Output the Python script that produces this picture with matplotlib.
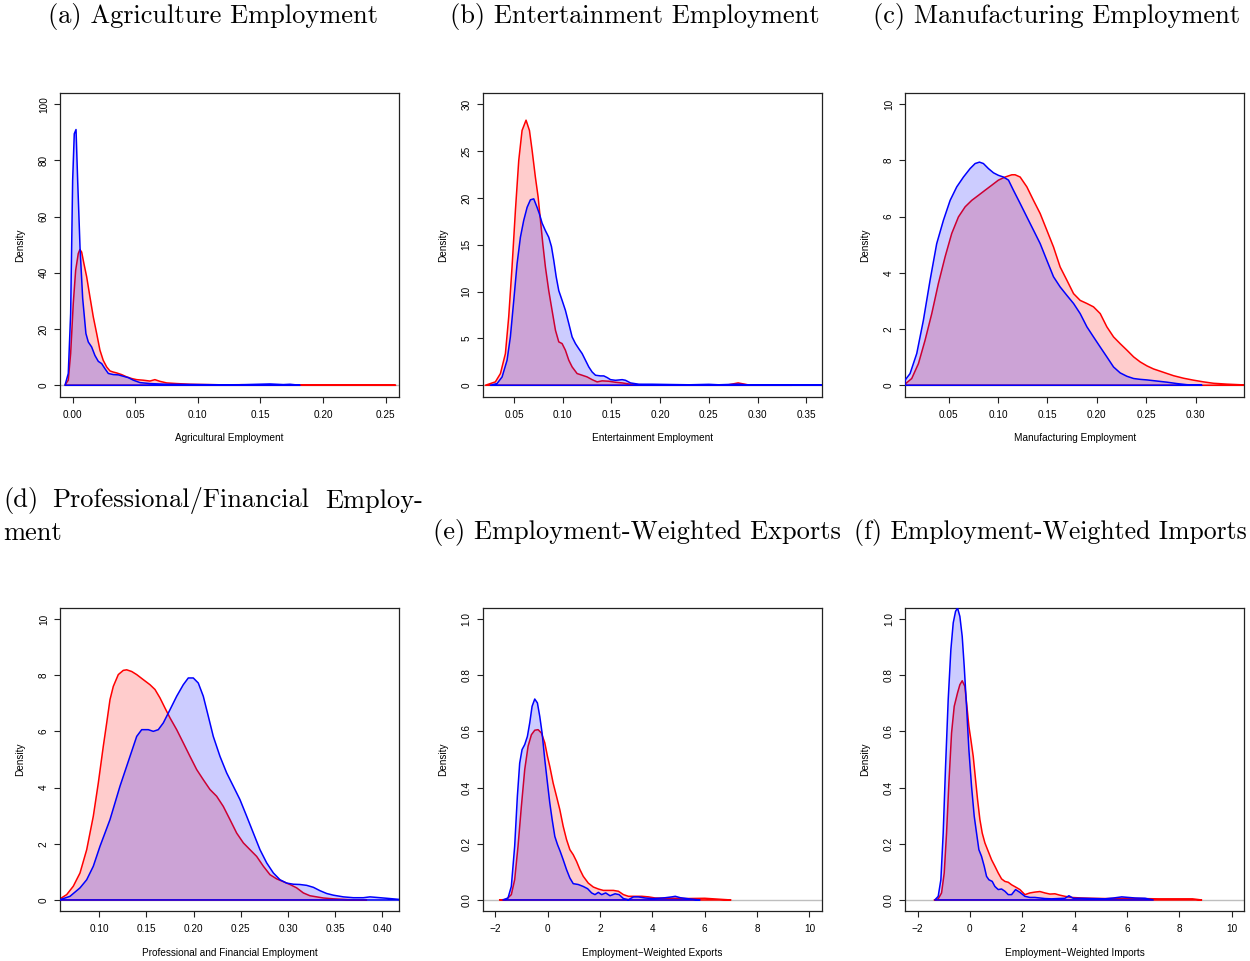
import matplotlib
matplotlib.use("Agg")
import matplotlib.pyplot as plt
import numpy as np

# ---------------- data: kernel density curves (x, density) ----------------
# (a) Agricultural employment
agri_red_x = [-0.0062, -0.0035, -0.0016, 0.0005, 0.0024, 0.0045, 0.0058, 0.0072, 0.0090, 0.0112,
              0.0138, 0.0165, 0.0192, 0.0218, 0.0244, 0.0272, 0.0298, 0.0324, 0.0351, 0.0391,
              0.0431, 0.0471, 0.0511, 0.0564, 0.0617, 0.0657, 0.0697, 0.0751, 0.0831, 0.0937,
              0.1000, 0.1200, 0.1350, 0.1500, 0.2000, 0.2580]
agri_red_y = [0.0, 1.8, 11.3, 29.1, 40.9, 46.9, 48.3, 47.4, 43.3, 38.6,
              31.5, 24.3, 18.4, 12.5, 8.9, 6.5, 5.1, 4.7, 4.4, 3.8,
              3.0, 2.4, 2.0, 1.8, 1.5, 2.0, 1.4, 0.83, 0.6, 0.36,
              0.3, 0.15, 0.2, 0.05, 0.02, 0.0]
agri_blue_x = [-0.0061, -0.0035, -0.0016, 0.0000, 0.0013, 0.0027, 0.0040, 0.0059, 0.0080, 0.0106,
               0.0125, 0.0152, 0.0178, 0.0205, 0.0232, 0.0258, 0.0285, 0.0325, 0.0365, 0.0405,
               0.0445, 0.0485, 0.0538, 0.0618, 0.0751, 0.1017, 0.1283, 0.1576, 0.1683, 0.1736,
               0.1816]
agri_blue_y = [0.0, 4.2, 25.5, 72.9, 89.5, 91.0, 73.0, 49.0, 31.0, 18.4,
               15.4, 13.6, 10.6, 8.5, 7.7, 5.9, 4.2, 3.8, 3.7, 3.2,
               2.7, 1.8, 0.95, 0.6, 0.36, 0.24, 0.12, 0.47, 0.24, 0.36,
               0.0]

# (b) Entertainment employment
ent_red_x = [0.0205, 0.0308, 0.0360, 0.0411, 0.0445, 0.0479, 0.0514, 0.0548, 0.0582, 0.0623,
             0.0658, 0.0685, 0.0719, 0.0747, 0.0771, 0.0795, 0.0822, 0.0856, 0.0890, 0.0925,
             0.0959, 0.0993, 0.1027, 0.1062, 0.1096, 0.1147, 0.1199, 0.1250, 0.1301, 0.1353,
             0.1404, 0.1473, 0.1541, 0.1610, 0.1678, 0.1747, 0.1884, 0.2000, 0.2500, 0.2700,
             0.2800, 0.2900, 0.3200, 0.3350]
ent_red_y = [0.0, 0.36, 1.25, 3.38, 7.3, 12.6, 18.7, 24.0, 27.2, 28.3,
             27.2, 25.1, 22.2, 20.1, 17.6, 15.1, 12.6, 10.1, 8.0, 5.87,
             4.63, 4.45, 3.74, 2.67, 1.96, 1.25, 1.07, 0.89, 0.6, 0.36,
             0.47, 0.43, 0.32, 0.25, 0.14, 0.07, 0.04, 0.05, 0.02, 0.05,
             0.25, 0.05, 0.02, 0.0]
ent_blue_x = [0.0257, 0.0325, 0.0377, 0.0428, 0.0462, 0.0497, 0.0531, 0.0565, 0.0599, 0.0634,
              0.0668, 0.0702, 0.0736, 0.0760, 0.0788, 0.0822, 0.0856, 0.0884, 0.0908, 0.0932,
              0.0959, 0.0993, 0.1027, 0.1062, 0.1096, 0.1130, 0.1164, 0.1199, 0.1233, 0.1267,
              0.1301, 0.1336, 0.1387, 0.1421, 0.1456, 0.1490, 0.1541, 0.1610, 0.1644, 0.1695,
              0.1781, 0.1918, 0.2100, 0.2300, 0.2500, 0.2600, 0.2800, 0.2900, 0.3300, 0.3700]
ent_blue_y = [0.0, 0.18, 0.89, 2.67, 5.16, 9.07, 12.99, 15.8, 17.6, 19.0,
              19.8, 19.9, 19.0, 18.3, 17.3, 16.5, 15.8, 14.8, 13.3, 11.6,
              10.1, 9.07, 8.0, 6.58, 5.16, 4.45, 3.91, 3.38, 2.67, 1.96,
              1.42, 1.07, 1.0, 1.0, 0.82, 0.6, 0.53, 0.6, 0.53, 0.25,
              0.11, 0.11, 0.08, 0.05, 0.1, 0.05, 0.12, 0.04, 0.03, 0.02]

# (c) Manufacturing employment
man_red_x = [0.0057, 0.0125, 0.0193, 0.0260, 0.0328, 0.0395, 0.0463, 0.0530, 0.0598, 0.0666,
             0.0733, 0.0801, 0.0868, 0.0936, 0.1003, 0.1071, 0.1139, 0.1172, 0.1223, 0.1291,
             0.1358, 0.1426, 0.1493, 0.1561, 0.1628, 0.1696, 0.1764, 0.1831, 0.1899, 0.1966,
             0.2034, 0.2101, 0.2169, 0.2236, 0.2304, 0.2372, 0.2439, 0.2507, 0.2574, 0.2642,
             0.2709, 0.2777, 0.2878, 0.2980, 0.3081, 0.3182, 0.3318, 0.3503]
man_red_y = [0.04, 0.24, 0.77, 1.60, 2.55, 3.62, 4.57, 5.40, 5.99, 6.35,
             6.58, 6.76, 6.94, 7.12, 7.30, 7.41, 7.49, 7.49, 7.41, 7.06,
             6.58, 6.11, 5.52, 4.92, 4.21, 3.74, 3.26, 3.02, 2.91, 2.79,
             2.55, 2.08, 1.72, 1.48, 1.25, 1.01, 0.83, 0.69, 0.58, 0.50,
             0.42, 0.34, 0.25, 0.18, 0.12, 0.07, 0.04, 0.01]
man_blue_x = [0.0057, 0.0108, 0.0176, 0.0243, 0.0311, 0.0378, 0.0446, 0.0514, 0.0581, 0.0649,
              0.0716, 0.0767, 0.0811, 0.0851, 0.0902, 0.0953, 0.1003, 0.1054, 0.1105, 0.1155,
              0.1223, 0.1291, 0.1358, 0.1426, 0.1493, 0.1561, 0.1628, 0.1696, 0.1764, 0.1831,
              0.1899, 0.1966, 0.2034, 0.2101, 0.2169, 0.2236, 0.2304, 0.2372, 0.2439, 0.2507,
              0.2608, 0.2709, 0.2811, 0.2912, 0.3064]
man_blue_y = [0.18, 0.415, 1.13, 2.31, 3.74, 5.04, 5.87, 6.58, 7.06, 7.41,
              7.71, 7.89, 7.94, 7.89, 7.71, 7.56, 7.47, 7.41, 7.30, 6.94,
              6.47, 5.99, 5.52, 5.04, 4.45, 3.86, 3.50, 3.20, 2.91, 2.55,
              2.08, 1.72, 1.36, 1.01, 0.65, 0.44, 0.32, 0.24, 0.21, 0.19,
              0.15, 0.11, 0.06, 0.02, 0.0]

# (d) Professional and financial employment
prof_red_x = [0.0583, 0.0654, 0.0724, 0.0795, 0.0866, 0.0936, 0.0989, 0.1042, 0.1078, 0.1113,
              0.1148, 0.1201, 0.1254, 0.1290, 0.1343, 0.1396, 0.1466, 0.1537, 0.1590, 0.1643,
              0.1696, 0.1749, 0.1820, 0.1890, 0.1961, 0.2032, 0.2102, 0.2173, 0.2244, 0.2314,
              0.2385, 0.2456, 0.2527, 0.2597, 0.2668, 0.2739, 0.2809, 0.2880, 0.2951, 0.3021,
              0.3092, 0.3163, 0.3233, 0.3304, 0.3375, 0.3481, 0.3657, 0.3834]
prof_red_y = [0.04, 0.19, 0.49, 0.96, 1.79, 2.98, 4.16, 5.47, 6.30, 7.13,
              7.60, 8.02, 8.17, 8.19, 8.13, 8.02, 7.84, 7.66, 7.49, 7.19,
              6.83, 6.48, 6.06, 5.59, 5.11, 4.64, 4.28, 3.93, 3.69, 3.33,
              2.86, 2.38, 2.03, 1.79, 1.55, 1.20, 0.90, 0.75, 0.65, 0.55,
              0.43, 0.25, 0.15, 0.11, 0.07, 0.04, 0.01, 0.0]
prof_blue_x = [0.0583, 0.0689, 0.0795, 0.0866, 0.0936, 0.1007, 0.1113, 0.1219, 0.1325, 0.1396,
               0.1449, 0.1519, 0.1572, 0.1625, 0.1678, 0.1749, 0.1820, 0.1890, 0.1943, 0.1996,
               0.2049, 0.2102, 0.2155, 0.2208, 0.2279, 0.2350, 0.2420, 0.2491, 0.2562, 0.2633,
               0.2703, 0.2774, 0.2845, 0.2915, 0.2986, 0.3057, 0.3127, 0.3198, 0.3269, 0.3339,
               0.3410, 0.3481, 0.3587, 0.3693, 0.3799, 0.3869, 0.3940, 0.4046, 0.4180]
prof_blue_y = [0.01, 0.13, 0.43, 0.72, 1.20, 1.91, 2.86, 4.05, 5.11, 5.82,
               6.06, 6.06, 6.00, 6.06, 6.30, 6.77, 7.25, 7.66, 7.90, 7.90,
               7.72, 7.25, 6.54, 5.82, 5.11, 4.52, 4.05, 3.57, 2.98, 2.38,
               1.79, 1.32, 0.96, 0.72, 0.60, 0.56, 0.55, 0.52, 0.45, 0.33,
               0.23, 0.17, 0.11, 0.08, 0.08, 0.11, 0.09, 0.06, 0.02]

# (e) Employment-weighted exports
exp_red_x = [-1.834, -1.578, -1.387, -1.259, -1.131, -1.003, -0.875, -0.747, -0.620, -0.492,
             -0.364, -0.236, -0.108, -0.006, 0.083, 0.211, 0.339, 0.467, 0.595, 0.722,
             0.850, 0.978, 1.106, 1.234, 1.362, 1.553, 1.745, 1.937, 2.128, 2.320,
             2.512, 2.704, 2.895, 3.087, 3.342, 3.598, 3.854, 4.109, 4.493, 4.876,
             5.300, 6.000, 6.500, 7.000]
exp_red_y = [0.0, 0.002, 0.019, 0.072, 0.191, 0.333, 0.464, 0.547, 0.588, 0.604,
             0.606, 0.594, 0.559, 0.511, 0.475, 0.416, 0.369, 0.321, 0.262, 0.215,
             0.179, 0.161, 0.137, 0.108, 0.084, 0.060, 0.046, 0.039, 0.034, 0.034,
             0.034, 0.031, 0.019, 0.013, 0.013, 0.013, 0.011, 0.007, 0.006, 0.006,
             0.005, 0.006, 0.003, 0.0]
exp_blue_x = [-1.706, -1.514, -1.387, -1.259, -1.156, -1.067, -0.977, -0.875, -0.773, -0.684,
              -0.594, -0.492, -0.390, -0.300, -0.211, -0.108, -0.006, 0.083, 0.173, 0.275,
              0.377, 0.480, 0.595, 0.722, 0.850, 0.978, 1.170, 1.362, 1.528, 1.681,
              1.809, 1.937, 2.064, 2.218, 2.384, 2.576, 2.729, 2.895, 3.087, 3.279,
              3.470, 3.726, 3.982, 4.237, 4.493, 4.748, 4.876, 5.068, 5.400, 5.820]
exp_blue_y = [0.0, 0.007, 0.048, 0.191, 0.369, 0.487, 0.535, 0.553, 0.582, 0.630,
              0.689, 0.715, 0.701, 0.653, 0.594, 0.499, 0.416, 0.345, 0.286, 0.226,
              0.197, 0.173, 0.143, 0.108, 0.078, 0.058, 0.055, 0.048, 0.040, 0.025,
              0.019, 0.027, 0.019, 0.025, 0.015, 0.022, 0.019, 0.005, 0.001, 0.011,
              0.011, 0.007, 0.005, 0.006, 0.008, 0.011, 0.013, 0.008, 0.004, 0.0]

# (f) Employment-weighted imports
imp_red_x = [-1.365, -1.212, -1.084, -0.982, -0.893, -0.804, -0.702, -0.600, -0.473, -0.384,
             -0.295, -0.193, -0.115, -0.040, 0.037, 0.126, 0.215, 0.292, 0.381, 0.470,
             0.572, 0.699, 0.827, 0.954, 1.081, 1.209, 1.336, 1.463, 1.591, 1.744,
             1.909, 2.100, 2.291, 2.482, 2.673, 2.864, 3.055, 3.246, 3.437, 3.629,
             3.883, 4.266, 4.648, 5.157, 6.000, 6.500, 7.200, 8.500, 8.850]
imp_red_y = [0.0, 0.004, 0.025, 0.096, 0.238, 0.416, 0.594, 0.689, 0.737, 0.766,
             0.780, 0.760, 0.689, 0.618, 0.570, 0.511, 0.428, 0.357, 0.286, 0.238,
             0.203, 0.173, 0.143, 0.120, 0.096, 0.075, 0.066, 0.063, 0.054, 0.046,
             0.037, 0.019, 0.025, 0.028, 0.030, 0.025, 0.021, 0.022, 0.017, 0.013,
             0.009, 0.007, 0.006, 0.005, 0.006, 0.005, 0.004, 0.004, 0.0]
imp_blue_x = [-1.339, -1.212, -1.110, -1.021, -0.931, -0.830, -0.728, -0.638, -0.549, -0.473,
              -0.384, -0.295, -0.218, -0.129, -0.040, 0.062, 0.164, 0.253, 0.342, 0.444,
              0.546, 0.635, 0.724, 0.852, 0.954, 1.081, 1.209, 1.336, 1.463, 1.591,
              1.744, 1.909, 2.100, 2.291, 2.482, 2.673, 2.864, 3.119, 3.374, 3.629,
              3.781, 3.947, 4.266, 4.648, 5.157, 5.480, 5.800, 6.310, 6.690, 7.000]
imp_blue_y = [0.0, 0.013, 0.072, 0.238, 0.475, 0.713, 0.891, 0.986, 1.027, 1.039,
              1.009, 0.938, 0.831, 0.689, 0.535, 0.404, 0.298, 0.238, 0.179, 0.155,
              0.120, 0.084, 0.072, 0.066, 0.048, 0.037, 0.039, 0.031, 0.019, 0.019,
              0.037, 0.027, 0.013, 0.009, 0.009, 0.007, 0.005, 0.004, 0.005, 0.006,
              0.015, 0.006, 0.006, 0.005, 0.004, 0.007, 0.011, 0.007, 0.006, 0.0]

captions = ["(a) Agriculture Employment", "(b) Entertainment Employment",
            "(c) Manufacturing Employment",
            "(d) Professional/Financial Employ-\nment",
            "(e) Employment-Weighted Exports", "(f) Employment-Weighted Imports"]
xlabels = ["Agricultural Employment", "Entertainment Employment",
           "Manufacturing Employment", "Professional and Financial Employment",
           "Employment\u2212Weighted Exports", "Employment\u2212Weighted Imports"]

panels = [
    dict(red=(agri_red_x, agri_red_y), blue=(agri_blue_x, agri_blue_y),
         xlim=(-0.0101, 0.2609), ylim=(0, 100),
         xticks=[0.00, 0.05, 0.10, 0.15, 0.20, 0.25], xfmt="{:.2f}",
         yticks=[0, 20, 40, 60, 80, 100], yfmt="{:.0f}"),
    dict(red=(ent_red_x, ent_red_y), blue=(ent_blue_x, ent_blue_y),
         xlim=(0.0178, 0.3661), ylim=(0, 30),
         xticks=[0.05, 0.10, 0.15, 0.20, 0.25, 0.30, 0.35], xfmt="{:.2f}",
         yticks=[0, 5, 10, 15, 20, 25, 30], yfmt="{:.0f}"),
    dict(red=(man_red_x, man_red_y), blue=(man_blue_x, man_blue_y),
         xlim=(0.0057, 0.3493), ylim=(0, 10),
         xticks=[0.05, 0.10, 0.15, 0.20, 0.25, 0.30], xfmt="{:.2f}",
         yticks=[0, 2, 4, 6, 8, 10], yfmt="{:.0f}"),
    dict(red=(prof_red_x, prof_red_y), blue=(prof_blue_x, prof_blue_y),
         xlim=(0.0583, 0.4180), ylim=(0, 10),
         xticks=[0.10, 0.15, 0.20, 0.25, 0.30, 0.35, 0.40], xfmt="{:.2f}",
         yticks=[0, 2, 4, 6, 8, 10], yfmt="{:.0f}"),
    dict(red=(exp_red_x, exp_red_y), blue=(exp_blue_x, exp_blue_y),
         xlim=(-2.48, 10.48), ylim=(0, 1),
         xticks=[-2, 0, 2, 4, 6, 8, 10], xfmt="{:.0f}",
         yticks=[0, 0.2, 0.4, 0.6, 0.8, 1.0], yfmt="{:.1f}"),
    dict(red=(imp_red_x, imp_red_y), blue=(imp_blue_x, imp_blue_y),
         xlim=(-2.48, 10.48), ylim=(0, 1),
         xticks=[-2, 0, 2, 4, 6, 8, 10], xfmt="{:.0f}",
         yticks=[0, 0.2, 0.4, 0.6, 0.8, 1.0], yfmt="{:.1f}"),
]

# ---------------- layout (pixels) ----------------
W, H = 1250, 961
fig = plt.figure(figsize=(W / 100, H / 100), dpi=100)
fig.patch.set_facecolor("white")

col_left = [60.0, 482.7, 905.0]
ax_w = 339.3
row_top = [93.0, 607.7]
ax_h = 303.5

TICK_FONT = dict(family="Liberation Sans", size=7.2)
CAP_FONT = dict(family="cmr10", size=19)
RED, BLUE = "#FF0000", "#0000FF"


def minus(s):
    return s.replace("-", "\u2212")


def density_polygon(ax, xs, ys, color, fill_rgba, z):
    """Shade the area under a density curve and outline it, base included."""
    xs = list(xs)
    ys = list(ys)
    px = xs + [xs[-1], xs[0]]
    py = ys + [0.0, 0.0]
    ax.fill(px, py, facecolor=fill_rgba, edgecolor=color, lw=1.1,
            joinstyle="round", zorder=z)


def fig_text(x, y, s, **kw):
    fig.text(x / W, 1 - y / H, s, va="center", **kw)


for i, p in enumerate(panels):
    r, c = divmod(i, 3)
    left = col_left[c]
    top = row_top[r]
    ax = fig.add_axes([left / W, 1 - (top + ax_h) / H, ax_w / W, ax_h / H])
    y0, y1 = p["ylim"]
    pad = 0.04 * (y1 - y0)
    ax.set_xlim(*p["xlim"])
    ax.set_ylim(y0 - pad, y1 + pad)

    ax.axhline(0, color="#BEBEBE", lw=1.0, zorder=1)
    density_polygon(ax, *p["red"], RED, (1, 0, 0, 0.2), 2)
    density_polygon(ax, *p["blue"], BLUE, (0, 0, 1, 0.2), 3)

    ax.set_xticks(p["xticks"])
    ax.set_xticklabels([minus(p["xfmt"].format(v)) for v in p["xticks"]], **TICK_FONT)
    ax.set_yticks(p["yticks"])
    ax.set_yticklabels([p["yfmt"].format(v) for v in p["yticks"]], rotation=90,
                       va="center", **TICK_FONT)
    ax.tick_params(axis="x", direction="out", length=4, width=0.8, pad=5.5, color="#222222")
    ax.tick_params(axis="y", direction="out", length=4, width=0.8, pad=4, color="#222222")
    for s in ax.spines.values():
        s.set_linewidth(0.9)
        s.set_color("#222222")

    ax.text(0.5, -41.7 / ax_h, xlabels[i], transform=ax.transAxes,
            ha="center", va="center", **TICK_FONT)
    ax.text(-40.0 / ax_w, 0.5, "Density", transform=ax.transAxes, rotation=90,
            ha="center", va="center", **TICK_FONT)

# captions above each panel
fig_text(213, 17, captions[0], ha="center", **CAP_FONT)
fig_text(635, 17, captions[1], ha="center", **CAP_FONT)
fig_text(1057, 17, captions[2], ha="center", **CAP_FONT)

# caption (d) is set justified over two lines
d_line1, d_line2 = captions[3].split("\n")
d_words = d_line1.split(" ")
fig_text(3, 501, d_words[0], ha="left", **CAP_FONT)
fig_text(52, 501, d_words[1], ha="left", **CAP_FONT)
fig_text(423, 501, d_words[2], ha="right", **CAP_FONT)
fig_text(3, 533, d_line2, ha="left", **CAP_FONT)

fig_text(433, 533, captions[4], ha="left", **CAP_FONT)
fig_text(1247, 533, captions[5], ha="right", family="cmr10", size=18.5)

fig.savefig("out.png", dpi=100, facecolor="white")
